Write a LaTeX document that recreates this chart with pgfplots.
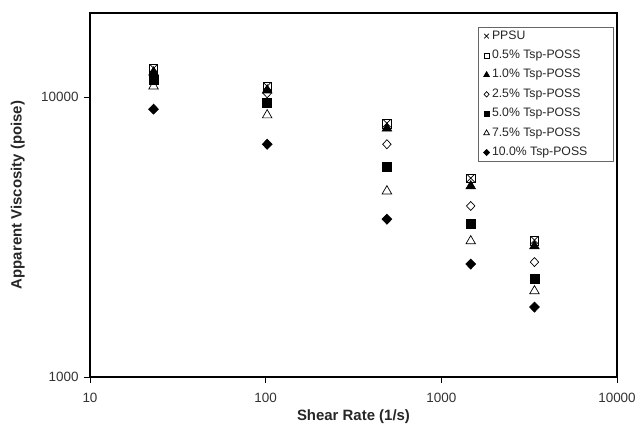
\documentclass[border=0pt]{standalone}
\usepackage{pgfplots}
\pgfplotsset{compat=1.18}
\usepackage{fontspec}
\setmainfont{Liberation Sans}

% shear rates (1/s) and apparent viscosities (poise)
\pgfplotstableread{
x     v
23    12690
102   10940
490   8075
1470  5137
3390  3084
}\ppsu
\pgfplotstableread{
x     v
23    12600
102   10900
490   8050
1470  5120
3390  3070
}\possA
\pgfplotstableread{
x     v
23    12270
102   10590
490   7740
1470  4810
3390  2937
}\possB
\pgfplotstableread{
x     v
23    11880
102   10330
490   6790
1470  4085
3390  2575
}\possC
\pgfplotstableread{
x     v
23    11500
102   9520
490   5620
1470  3517
3390  2240
}\possD
\pgfplotstableread{
x     v
23    10940
102   8630
490   4615
1470  3060
3390  2028
}\possE
\pgfplotstableread{
x     v
23    9060
102   6790
490   3665
1470  2533
3390  1778
}\possF

\begin{document}
\begin{tikzpicture}
\pgfplotsset{
  pt/.style={only marks, black, line width=0.7bp,
    legend image code/.code={\draw[##1, every mark/.append style={scale=0.6}] plot coordinates {(0bp,0bp)};}},
}
\begin{axis}[
  scale only axis,
  width=527bp, height=364bp,
  xmode=log, ymode=log,
  xmin=10, xmax=10000, ymin=1000, ymax=20000,
  xtick={10,100,1000,10000}, xticklabels={10,100,1000,10000},
  ytick={1000,10000}, yticklabels={1000,10000},
  xminorticks=false, yminorticks=false,
  tick pos=left, tick align=outside, major tick length=6bp,
  tick style={black, line width=0.8bp},
  axis line style={black, line width=1.2bp},
  ticklabel style={font=\fontsize{13.5}{16}\selectfont, text=black!80},
  xticklabel style={yshift=-7bp},
  yticklabel style={xshift=-2bp},
  xlabel={Shear Rate (1/s)},
  ylabel={Apparent Viscosity (poise)},
  label style={font=\bfseries\fontsize{15}{17}\selectfont, text=black!85},
  xlabel style={at={(axis description cs:0.5,-0.11)}, anchor=center},
  ylabel style={at={(axis description cs:-0.137,0.5)}, anchor=center},
  legend style={at={(axis description cs:0.736,0.962)}, anchor=north west,
    draw=black!60, line width=0.6bp, font=\fontsize{12.3}{14}\selectfont, text=black!85,
    inner xsep=5.5bp, inner ysep=1bp, row sep=3.4bp,
    nodes={inner xsep=2.5bp, inner ysep=2bp, text height=9bp, text depth=3bp, anchor=west}},
  legend cell align=left,
]
\addplot[pt, mark=x, mark size=5.5bp] table[x=x,y=v] {\ppsu};
\addlegendentry{\makebox[113bp][l]{PPSU}}
\addplot[pt, mark=square, mark size=4.3bp] table[x=x,y=v] {\possA};
\addlegendentry{\makebox[113bp][l]{0.5\% Tsp-POSS}}
\addplot[pt, mark=triangle*, mark size=5.5bp] table[x=x,y=v] {\possB};
\addlegendentry{\makebox[113bp][l]{1.0\% Tsp-POSS}}
\addplot[pt, mark=diamond, mark size=4.5bp, mark options={xscale=1.25}] table[x=x,y=v] {\possC};
\addlegendentry{\makebox[113bp][l]{2.5\% Tsp-POSS}}
\addplot[pt, mark=square*, mark size=4.5bp] table[x=x,y=v] {\possD};
\addlegendentry{\makebox[113bp][l]{5.0\% Tsp-POSS}}
\addplot[pt, mark=triangle, mark size=5.5bp] table[x=x,y=v] {\possE};
\addlegendentry{\makebox[113bp][l]{7.5\% Tsp-POSS}}
\addplot[pt, mark=diamond*, mark size=5bp, mark options={xscale=1.3}] table[x=x,y=v] {\possF};
\addlegendentry{\makebox[113bp][l]{10.0\% Tsp-POSS}}
\end{axis}
\pgfresetboundingbox
\path[use as bounding box] ([xshift=-90bp,yshift=-49bp]current axis.south west)
  rectangle ([xshift=19bp,yshift=13bp]current axis.north east);
\end{tikzpicture}
\end{document}
